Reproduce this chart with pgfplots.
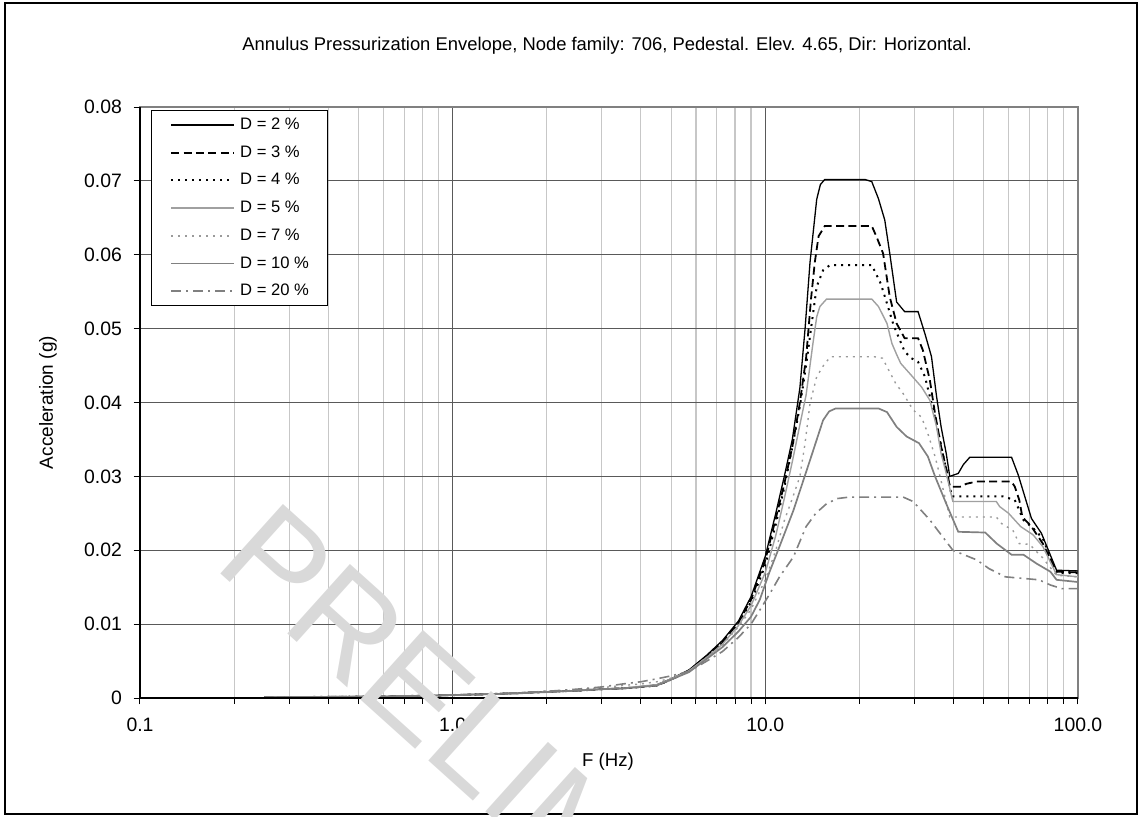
\documentclass[border=0pt]{standalone}
\usepackage{pgfplots}
\pgfplotsset{compat=1.18}
\usepackage{fontspec}
\setmainfont{Liberation Sans}
\definecolor{g5}{HTML}{A0A0A0}
\definecolor{g7}{HTML}{9A9A9A}
\definecolor{g10}{HTML}{808080}
\definecolor{g20}{HTML}{808080}
\begin{document}
\begin{tikzpicture}
\useasboundingbox (-70pt,-59pt) rectangle (500.5pt,349pt);
\draw[black, line width=0.6pt] (-67.5pt,-58pt) rectangle (498.5pt,347.5pt);
\begin{axis}[
  at={(0,0)}, anchor=south west,
  scale only axis, width=469pt, height=295.5pt,
  xmode=log, xmin=0.1, xmax=100, ymin=0, ymax=0.08,
  scaled y ticks=false,
  xtick={0.1,1,10,100}, xticklabels={0.1,1.0,10.0,100.0},
  ytick={0,0.01,0.02,0.03,0.04,0.05,0.06,0.07,0.08},
  yticklabels={0,0.01,0.02,0.03,0.04,0.05,0.06,0.07,0.08},
  tick pos=left, tick align=outside,
  major tick length=3.2pt, minor tick length=2.8pt,
  every tick/.style={black, line width=0.5pt},
  xmajorgrids, xminorgrids, ymajorgrids,
  major grid style={draw=black!65, line width=0.55pt},
  minor grid style={draw=black!22, line width=0.55pt},
  axis line style={draw=black!50, line width=0.9pt},
  ticklabel style={font=\fontsize{9.7}{11}\selectfont},
  yticklabel style={xshift=-2.3pt},
  xticklabel style={yshift=-3.3pt},
  title={Annulus Pressurization Envelope, Node family: 706, Pedestal. Elev. 4.65, Dir: Horizontal.},
  title style={at={(axis description cs:0.498,1.0829)}, anchor=center, font=\fontsize{9.2}{11}\selectfont},
  xlabel={F (Hz)},
  xlabel style={at={(axis description cs:0.499,-0.1083)}, anchor=center, font=\fontsize{9.3}{11}\selectfont},
  ylabel={Acceleration (g)},
  ylabel style={at={(axis description cs:-0.098,0.5)}, anchor=center, font=\fontsize{9.5}{11}\selectfont},
  legend image code/.code={\draw[#1] (0pt,0pt) -- (31.5pt,0pt);},
  legend cell align=left,
  legend style={at={(rel axis cs:0.0114,0.9949)}, anchor=north west, draw=black, line width=0.5pt,
    font=\fontsize{8.3}{9}\selectfont, inner xsep=9.5pt, inner ysep=3.5pt,
    row sep=6.35pt, column sep=2.5pt,
    nodes={inner sep=0pt, text height=6pt, text depth=1.5pt}},
]
\addplot[black, line width=0.65pt] coordinates {
(0.25,0.0001)(0.3,0.00012)(0.4,0.00015)(0.5,0.00018)(0.6,0.0002)(0.8,0.0003)(1,0.0004)(1.25,0.0005)(1.6,0.00065)(2,0.00085)(2.5,0.001)(3,0.0012)(3.5,0.0013)(4,0.0015)(4.5,0.0018)(5,0.0026)(5.7,0.0038)(6.5,0.0058)(7.3,0.0078)(8.2,0.0104)(9,0.0137)(10,0.0192)(10.8,0.025)(11.5,0.030)(12.2,0.035)(12.9,0.042)(13.4,0.050)(13.9,0.059)(14.6,0.0675)(15.0,0.0695)(15.5,0.0702)(20.8,0.0702)(21.9,0.0699)(23.0,0.0676)(24.1,0.0647)(25.0,0.0602)(26.3,0.0536)(27.9,0.0523)(30.8,0.0523)(32.4,0.0493)(34.0,0.0462)(35.3,0.0408)(36.5,0.0367)(37.9,0.0331)(38.9,0.0300)(41.4,0.0304)(43,0.0316)(45.1,0.0326)(61.3,0.0326)(64.4,0.0302)(71,0.0243)(76.4,0.0223)(85.4,0.0173)(100,0.0172)};
\addlegendentry{D = 2 \%}
\addplot[black, line width=0.9pt, dash pattern=on 4pt off 2.2pt] coordinates {
(0.25,0.0001)(0.3,0.00012)(0.4,0.00015)(0.5,0.00018)(0.6,0.0002)(0.8,0.0003)(1,0.0004)(1.25,0.0005)(1.6,0.00065)(2,0.00085)(2.5,0.001)(3,0.0012)(3.5,0.0013)(4,0.0015)(4.5,0.0017)(5,0.0025)(5.7,0.0037)(6.5,0.0056)(7.3,0.0076)(8.2,0.0102)(9,0.0133)(10,0.0187)(10.8,0.0243)(11.5,0.029)(12.2,0.034)(12.9,0.040)(13.5,0.046)(14.0,0.054)(14.4,0.059)(14.8,0.0625)(15.5,0.0639)(21.9,0.0639)(22.7,0.0624)(23.8,0.0602)(25.0,0.0543)(26.3,0.0507)(27.9,0.0487)(30.8,0.0487)(31.9,0.0471)(33.6,0.043)(34.9,0.0385)(36.5,0.034)(38.4,0.030)(38.9,0.0286)(42,0.0286)(44,0.029)(47.4,0.0293)(61.3,0.0293)(62.8,0.0286)(64.9,0.0268)(66.4,0.0245)(71,0.0232)(77.2,0.0209)(85.4,0.0171)(100,0.0170)};
\addlegendentry{D = 3 \%}
\addplot[black, line width=1pt, dash pattern=on 1pt off 2.5pt] coordinates {
(0.25,0.0001)(0.3,0.00012)(0.4,0.00015)(0.5,0.00018)(0.6,0.0002)(0.8,0.0003)(1,0.0004)(1.25,0.0005)(1.6,0.00065)(2,0.00085)(2.5,0.001)(3,0.0012)(3.5,0.0013)(4,0.0015)(4.5,0.0017)(5,0.0025)(5.7,0.0037)(6.5,0.0056)(7.3,0.0075)(8.2,0.0100)(9,0.013)(10,0.018)(10.8,0.0235)(11.5,0.0285)(12.2,0.034)(12.9,0.0395)(13.5,0.045)(14.0,0.050)(14.6,0.0557)(15.3,0.0579)(16.1,0.0586)(21.9,0.0586)(23.4,0.0561)(24.5,0.0534)(25.7,0.0505)(27.9,0.0469)(29.3,0.046)(30.8,0.0455)(32.4,0.0435)(33.6,0.0408)(34.9,0.038)(36.2,0.0349)(37.9,0.0309)(39.5,0.0273)(57.4,0.0273)(62.8,0.0268)(66.9,0.0241)(71.8,0.023)(77.2,0.0216)(85.4,0.0169)(100,0.0169)};
\addlegendentry{D = 4 \%}
\addplot[g5, line width=0.7pt] coordinates {
(0.25,0.0001)(0.3,0.00012)(0.4,0.00015)(0.5,0.00018)(0.6,0.0002)(0.8,0.0003)(1,0.0004)(1.25,0.0005)(1.6,0.00065)(2,0.00085)(2.5,0.001)(3,0.0012)(3.5,0.0013)(4,0.0016)(4.5,0.0018)(5,0.0026)(5.7,0.0037)(6.5,0.0055)(7.3,0.0073)(8.2,0.0098)(9,0.0125)(10,0.017)(10.8,0.022)(11.5,0.027)(12.2,0.032)(12.9,0.037)(13.5,0.041)(14.2,0.048)(14.6,0.0516)(14.95,0.053)(15.7,0.054)(21.9,0.054)(23,0.053)(24.5,0.0507)(25.4,0.048)(26.3,0.0465)(27.1,0.0453)(29,0.0439)(31.6,0.0421)(33.6,0.0403)(35.3,0.0367)(36.5,0.0331)(37.9,0.0304)(39.8,0.0266)(54.8,0.0266)(56.2,0.0259)(60,0.025)(65.6,0.0232)(71.8,0.0221)(77.2,0.0205)(85.4,0.0167)(100,0.0164)};
\addlegendentry{D = 5 \%}
\addplot[g7, line width=0.7pt, dash pattern=on 1pt off 2.5pt] coordinates {
(0.25,0.0001)(0.3,0.00012)(0.4,0.00015)(0.5,0.00018)(0.6,0.0002)(0.8,0.0003)(1,0.0004)(1.25,0.0005)(1.6,0.0007)(2,0.0009)(2.5,0.0011)(3,0.0014)(3.5,0.0017)(4,0.0019)(4.5,0.0022)(5,0.0027)(5.7,0.0036)(6.5,0.0055)(7.3,0.0072)(8.2,0.0096)(9,0.012)(10,0.016)(10.8,0.020)(11.5,0.024)(12.2,0.027)(12.9,0.030)(13.4,0.0345)(13.9,0.0399)(14.6,0.0435)(15.5,0.0453)(16.2,0.0462)(22.3,0.0462)(23.7,0.046)(24.8,0.0444)(26.1,0.0426)(27.6,0.0412)(29.7,0.039)(31.6,0.038)(33.1,0.0358)(34.9,0.0327)(36.2,0.030)(38.9,0.0245)(54.8,0.0245)(57,0.0236)(61.9,0.0227)(64.9,0.0209)(70,0.0208)(77,0.019)(85.4,0.0166)(100,0.0164)};
\addlegendentry{D = 7 \%}
\addplot[g10, line width=0.85pt] coordinates {
(0.25,0.0001)(0.3,0.00012)(0.4,0.00015)(0.5,0.00018)(0.6,0.0002)(0.8,0.0003)(1,0.0004)(1.25,0.0005)(1.6,0.00062)(2,0.0008)(2.5,0.001)(3,0.0012)(3.5,0.0013)(4,0.0015)(4.5,0.0017)(5,0.0025)(5.7,0.0035)(6.5,0.0053)(7.3,0.0069)(8.2,0.009)(9,0.011)(9.6,0.0133)(10.3,0.017)(11.1,0.0205)(12.3,0.0254)(13.9,0.0322)(15.3,0.0376)(16,0.0388)(16.8,0.0392)(23,0.0392)(24.5,0.0387)(26.3,0.0367)(28.3,0.0354)(31,0.0345)(33.1,0.0327)(34.9,0.030)(36.5,0.028)(37.9,0.0263)(41.4,0.0225)(50.5,0.0224)(55,0.0209)(61.3,0.0194)(66.9,0.0194)(73.7,0.0182)(81.6,0.0171)(85.4,0.016)(100,0.0157)};
\addlegendentry{D = 10 \%}
\addplot[g20, line width=0.8pt, dash pattern=on 5pt off 2.5pt on 1pt off 2.5pt] coordinates {
(0.25,0.0001)(0.3,0.00012)(0.4,0.00016)(0.5,0.0002)(0.6,0.00025)(0.8,0.0003)(1,0.0004)(1.25,0.0005)(1.6,0.0007)(2,0.0009)(2.5,0.0012)(3,0.0015)(3.5,0.0019)(4,0.0022)(4.5,0.0026)(5,0.003)(5.7,0.0036)(6.5,0.005)(7.3,0.0063)(8.2,0.0082)(9,0.0100)(9.6,0.0119)(10.3,0.014)(11.1,0.0164)(12.3,0.0191)(13.5,0.0232)(14.5,0.025)(15.7,0.0263)(17,0.027)(18.6,0.0272)(27.6,0.0272)(29.7,0.0266)(33.6,0.0241)(39.8,0.020)(47.4,0.0187)(52,0.0175)(58.6,0.0164)(75,0.016)(81.6,0.0153)(88.7,0.0148)(100,0.0148)};
\addlegendentry{D = 20 \%}
\end{axis}
\draw[black, line width=0.8pt] (0,295.5pt) -- (0,0) -- (469pt,0);
\node[anchor=base west, rotate=-42, text=black!15, font=\fontsize{68}{72}\selectfont, inner sep=0pt] at (36pt,66pt) {PRELIMINARY};
\end{tikzpicture}
\end{document}
